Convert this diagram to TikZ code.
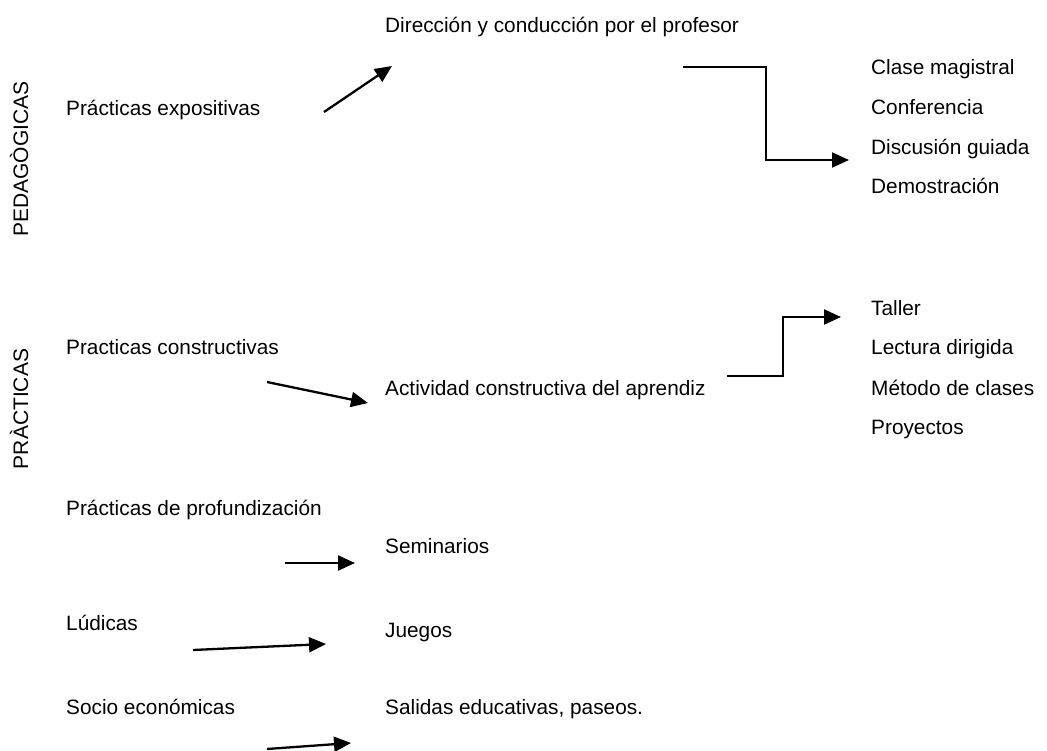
\documentclass[tikz,border=0pt]{standalone}
\usepackage{fontspec}
\setmainfont{Liberation Sans}
\usetikzlibrary{arrows.meta}
\begin{document}
\begin{tikzpicture}[x=1bp,y=-1bp,
  lbl/.style={anchor=base west,inner sep=0pt,font=\fontsize{20.8bp}{25bp}\selectfont},
  vlbl/.style={anchor=base,rotate=90,inner sep=0pt,font=\fontsize{21bp}{25bp}\selectfont},
  arr/.style={line width=2.3bp,-{Triangle[length=17bp,width=15bp]}}]
\useasboundingbox (0,0) rectangle (1047,751);
% side labels
\node[vlbl] (ped) at (28,159) {PEDAGÒGICAS};
\node[vlbl] (pra) at (28,409) {PRÀCTICAS};
% left column
\node[lbl] (exp) at (66,115) {Prácticas expositivas};
\node[lbl] (con) at (66,354) {Practicas constructivas};
\node[lbl] (pro) at (66,515) {Prácticas de profundización};
\node[lbl] (lud) at (66,630) {Lúdicas};
\node[lbl] (soc) at (66,714) {Socio económicas};
% middle column
\node[lbl] (dir) at (385,33) {Dirección y conducción por el profesor};
\node[lbl] (act) at (385,395) {Actividad constructiva del aprendiz};
\node[lbl] (sem) at (385,553) {Seminarios};
\node[lbl] (jue) at (385,637) {Juegos};
\node[lbl] (sal) at (385,714) {Salidas educativas, paseos.};
% right column
\node[lbl] (r1) at (871,75) {Clase magistral};
\node[lbl] (r2) at (871,114) {Conferencia};
\node[lbl] (r3) at (871,154) {Discusión guiada};
\node[lbl] (r4) at (871,193) {Demostración};
\node[lbl] (t1) at (871,315) {Taller};
\node[lbl] (t2) at (871,354) {Lectura dirigida};
\node[lbl] (t3) at (871,395) {Método de clases};
\node[lbl] (t4) at (871,434) {Proyectos};
% connector points
\coordinate (a1s) at (324,112); \coordinate (a1e) at (392,66);
\coordinate (a2s) at (267,382); \coordinate (a2e) at (368,403);
\coordinate (a3s) at (285,563); \coordinate (a3e) at (355,563);
\coordinate (a4s) at (193,650); \coordinate (a4e) at (326,644);
\coordinate (a5s) at (267,749); \coordinate (a5e) at (351,743);
\coordinate (e1s) at (683,67); \coordinate (e1c) at (766,67);
\coordinate (e1d) at (766,160); \coordinate (e1e) at (849,160);
\coordinate (e2s) at (727,376); \coordinate (e2c) at (783,376);
\coordinate (e2d) at (783,317); \coordinate (e2e) at (841,317);
\draw[arr] (a1s) -- (a1e);
\draw[arr] (a2s) -- (a2e);
\draw[arr] (a3s) -- (a3e);
\draw[arr] (a4s) -- (a4e);
\draw[arr] (a5s) -- (a5e);
\draw[arr] (e1s) -- (e1c) -- (e1d) -- (e1e);
\draw[arr] (e2s) -- (e2c) -- (e2d) -- (e2e);
\end{tikzpicture}
\end{document}
